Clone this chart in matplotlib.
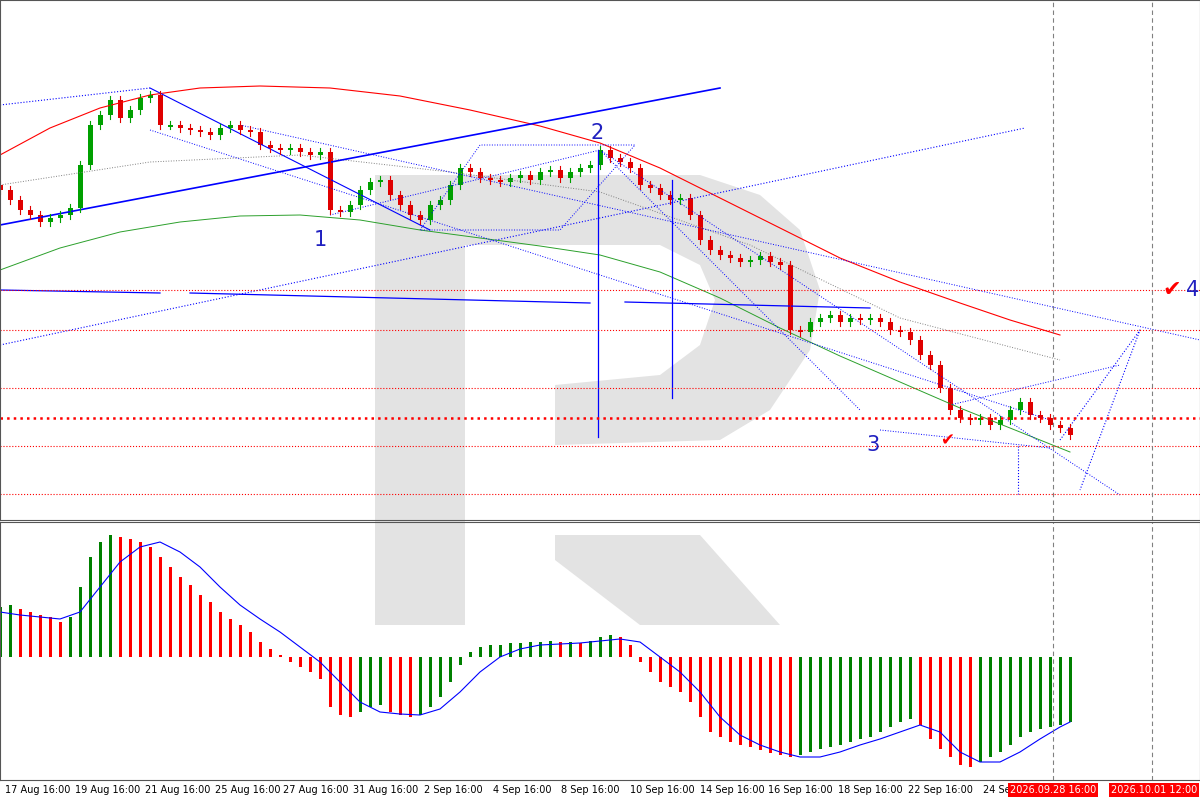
import matplotlib
matplotlib.use("Agg")
import matplotlib.pyplot as plt
from matplotlib.patches import Polygon, Rectangle

# price panel works in screen-like units (x = bar position, y = level, inverted)
bar_x = list(range(0, 1080, 10))
closes = [190, 200, 210, 215, 222, 218, 215, 208, 165, 125, 115, 100, 118, 110, 98, 95,
          125, 125, 128, 130, 132, 135, 128, 125, 130, 132, 145, 148, 150, 148, 152, 155,
          152, 210, 212, 205, 190, 182, 180, 195, 205, 215, 220, 205, 200, 185, 168, 172,
          178, 180, 182, 178, 175, 180, 172, 170, 178, 172, 168, 165, 150, 158, 162, 168,
          185, 188, 195, 200, 198, 215, 240, 250, 255, 258, 262, 260, 256, 262, 265, 330,
          332, 322, 318, 315, 322, 318, 320, 318, 322, 330, 332, 340, 355, 365, 388, 410,
          418, 420, 418, 425, 420, 410, 402, 415, 418, 425, 428, 435]
opens = [185] + closes[:-1]

hist = [50, 52, 48, 45, 42, 40, 35, 40, 70, 100, 115, 122, 120, 118, 115, 110, 100, 90,
        80, 72, 62, 55, 45, 38, 32, 25, 15, 8, 2, -5, -10, -15, -22, -50, -58, -60, -55,
        -50, -48, -55, -58, -60, -58, -50, -40, -25, -8, 5, 10, 12, 12, 14, 14, 15, 15, 16,
        15, 15, 14, 16, 20, 22, 20, 12, -5, -15, -25, -30, -35, -45, -60, -75, -80, -85,
        -88, -90, -93, -96, -98, -100, -98, -95, -92, -90, -88, -85, -82, -80, -75, -70,
        -65, -62, -68, -82, -92, -100, -108, -110, -105, -100, -95, -88, -80, -75, -72,
        -70, -68, -65]
sig_x = list(range(0, 1061, 20)) + [1070]
sig = [45, 42, 40, 38, 45, 70, 95, 110, 115, 105, 90, 70, 52, 38, 25, 10, -5, -25, -45,
       -55, -57, -58, -52, -35, -15, 0, 8, 12, 13, 14, 16, 18, 15, 0, -15, -35, -60, -78,
       -88, -95, -100, -100, -95, -88, -82, -75, -68, -75, -95, -105, -105, -95, -82, -70, -65]

date_x = [38, 108, 178, 248, 316, 386, 453, 522, 590, 662, 732, 800, 870, 940, 1000]
date_lbl = ["17 Aug 16:00", "19 Aug 16:00", "21 Aug 16:00", "25 Aug 16:00", "27 Aug 16:00",
            "31 Aug 16:00", "2 Sep 16:00", "4 Sep 16:00", "8 Sep 16:00", "10 Sep 16:00",
            "14 Sep 16:00", "16 Sep 16:00", "18 Sep 16:00", "22 Sep 16:00", "24 Sep"]
hlines = [290, 330, 388, 418, 446, 494]

red_x = [0, 50, 100, 150, 200, 260, 330, 400, 470, 540, 600, 660, 720, 780, 840, 900, 960, 1010, 1060]
red_y = [155, 128, 108, 95, 88, 86, 88, 96, 110, 126, 143, 168, 198, 228, 258, 282, 303, 320, 335]
grn_x = [0, 60, 120, 180, 240, 300, 360, 420, 480, 540, 600, 660, 720, 780, 840, 900, 960, 1020, 1070]
grn_y = [270, 248, 232, 222, 216, 215, 220, 230, 238, 246, 255, 272, 298, 328, 356, 382, 408, 432, 452]

fig = plt.figure(figsize=(12, 8), dpi=100)
bg = fig.add_axes([0, 0, 1, 1])
bg.set_xlim(0, 1200); bg.set_ylim(800, 0); bg.axis("off")
# watermark logo
wm = "#e3e3e3"
bg.add_patch(Rectangle((375, 175), 90, 450, color=wm, lw=0))
bg.add_patch(Polygon([(465, 175), (700, 175), (760, 195), (800, 230), (820, 290), (810, 350),
                      (770, 410), (720, 440), (555, 445), (555, 385), (660, 375), (700, 345),
                      (715, 300), (700, 265), (660, 245), (465, 245)], color=wm, lw=0))
bg.add_patch(Polygon([(555, 535), (700, 535), (780, 625), (640, 625), (555, 560)], color=wm, lw=0))

ax = fig.add_axes([0, 1 - 520 / 800, 1, 520 / 800])
ax.patch.set_alpha(0)
ax.set_xlim(0, 1200); ax.set_ylim(520, 0)
ax.set_xticks([]); ax.set_yticks([])

# overlays
ax.plot(red_x, red_y, color="red", lw=0.8)
ax.plot(grn_x, grn_y, color="#2ca02c", lw=0.7)
ax.plot([0, 150, 300, 450, 600, 750, 900, 1060], [185, 162, 155, 172, 192, 245, 318, 360],
        color="gray", lw=0.7, ls=":")
ax.plot([0, 720], [225, 88], color="blue", lw=1.2)
ax.plot([0, 1025], [345, 128], color="blue", lw=0.8, ls=":")
ax.plot([0, 150], [105, 88], color="blue", lw=0.8, ls=":")
ax.plot([150, 430], [88, 230], color="blue", lw=0.8)
ax.plot([240, 1200], [125, 340], color="blue", lw=0.7, ls=":")
ax.plot([150, 1050], [130, 420], color="blue", lw=0.7, ls=":")
ax.plot([600, 1120], [150, 495], color="blue", lw=0.7, ls=":")
ax.plot([330, 600, 860], [215, 150, 410], color="blue", lw=0.7, ls=":")
ax.plot([420, 480, 635, 560, 420], [230, 145, 145, 230, 230], color="blue", lw=0.7, ls=":")
ax.plot([0, 160], [290, 293], color="blue", lw=0.9)
ax.plot([190, 590], [293, 303], color="blue", lw=0.9)
ax.plot([625, 870], [302, 308], color="blue", lw=0.9)
ax.plot([598, 598], [150, 437], color="blue", lw=0.9)
ax.plot([672, 672], [180, 398], color="blue", lw=0.9)
ax.plot([1018, 1018], [446, 494], color="blue", lw=0.8, ls=":")
ax.plot([1060, 1140, 1080], [440, 330, 490], color="blue", lw=0.8, ls=":")
ax.plot([880, 1050], [430, 448], color="blue", lw=0.7, ls=":")
ax.plot([950, 1120], [405, 365], color="blue", lw=0.7, ls=":")
for y in hlines:
    ax.axhline(y, color="red", lw=1.8 if y == 418 else 0.8, ls=":")

# candles
for x, o, c in zip(bar_x, opens, closes):
    col = "#e00000" if c > o else "#00a000"
    ax.plot([x, x], [min(o, c) - 4, max(o, c) + 4], color=col, lw=0.8)
    ax.add_patch(Rectangle((x - 2.5, min(o, c)), 5, max(abs(c - o), 1.5), color=col, lw=0))

for t, x, y in [("1", 320, 240), ("2", 597, 133), ("3", 873, 445), ("4", 1193, 290)]:
    ax.text(x, y, t, color="#2020c0", fontsize=15, ha="center", va="center")
ax.text(1172, 290, "\u2714", color="red", fontsize=16, ha="center", va="center")
ax.text(947, 440, "\u2714", color="red", fontsize=12, ha="center", va="center")

# indicator
ax2 = fig.add_axes([0, 20 / 800, 1, 258 / 800])
ax2.patch.set_alpha(0)
ax2.set_xlim(0, 1200); ax2.set_ylim(-123, 135)
ax2.set_xticks([]); ax2.set_yticks([])
prev = hist[0]
for x, h in zip(bar_x, hist):
    col = "green" if h >= prev else "red"
    ax2.bar(x, h, width=3, color=col)
    prev = h
ax2.plot(sig_x, sig, color="blue", lw=0.8)

for a in (ax, ax2):
    a.axvline(1053, color="gray", lw=0.8, ls=(0, (4, 3)))
    a.axvline(1152, color="gray", lw=0.8, ls=(0, (4, 3)))
    for s in a.spines.values():
        s.set_color("#555555")
        s.set_linewidth(0.8)

for x, t in zip(date_x, date_lbl):
    bg.text(x, 790, t, fontsize=7, ha="center", va="center")
for x, t in [(1053, "2026.09.28 16:00"), (1154, "2026.10.01 12:00")]:
    bg.text(x, 790, t, fontsize=7, ha="center", va="center", color="white",
            bbox=dict(facecolor="red", edgecolor="none", pad=1.5))

fig.savefig("out.png", dpi=100)
